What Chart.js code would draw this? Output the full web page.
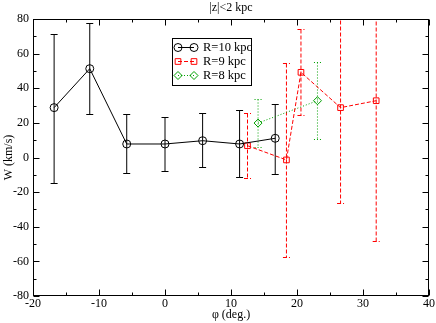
<!DOCTYPE html>
<html><head><meta charset="utf-8">
<script src="https://cdn.jsdelivr.net/npm/chart.js@4/dist/chart.umd.min.js"></script>
<style>html,body{margin:0;padding:0;background:#fff}</style>
</head><body><canvas id="c" width="436" height="323"></canvas>
<script>
const title = "|z|<2 kpc";
const xLabel = "\u03c6 (deg.)";
const yLabel = "W (km/s)";
const names = ["R=10 kpc","R=9 kpc","R=8 kpc"];
const phi10=[-16.8,-11.4,-5.8,0,5.7,11.3,16.7];
const w10=[28.8,51.3,7.8,7.8,9.7,7.8,11.1];
const hi10=[71.3,77.5,25,23.6,25.7,27.3,31.1];
const lo10=[-14.5,25,-9.1,-7.8,-5.7,-11.4,-9.4];
const phi9=[12.5,18.4,20.6,26.6,32.0];
const w9=[6.8,-1.4,49.2,28.8,32.8];
const hi9=[25.9,54.4,74.0,100,110];
const lo9=[-11.8,-57.5,24.4,-26.3,-48.1];
const phi8=[14.1,23.1];
const w8=[19.9,32.8];
const hi8=[33.6,55.0];
const lo8=[6.2,10.9];

const FONT = "'Liberation Serif', 'DejaVu Serif', serif";
function pts(x,y,hi,lo){return x.map((v,i)=>({x:v,y:y[i],hi:hi[i],lo:lo[i]}));}
const styles = [
  {color:'#000000', dash:[], style:'circle', r:4},
  {color:'#ff0000', dash:[4,2], style:'rect', r:4},
  {color:'#00a000', dash:[1,2], style:'rectRot', r:4}
];
const dataSets = [pts(phi10,w10,hi10,lo10), pts(phi9,w9,hi9,lo9), pts(phi8,w8,hi8,lo8)];

const frame = {
  id:'frame',
  beforeDatasetsDraw(chart){
    const {ctx, chartArea:a, scales:{x,y}} = chart;
    ctx.save();
    ctx.beginPath(); ctx.rect(a.left,a.top,a.right-a.left,a.bottom-a.top); ctx.clip();
    chart.data.datasets.forEach((ds,k)=>{
      const st = styles[k];
      ctx.strokeStyle = st.color; ctx.lineWidth = 1; ctx.setLineDash(st.dash);
      ds.data.forEach(p=>{
        const px = x.getPixelForValue(p.x);
        const ph = Math.round(y.getPixelForValue(p.hi))+0.5, pl = Math.round(y.getPixelForValue(p.lo))+0.5;
        ctx.beginPath();
        ctx.moveTo(px,ph); ctx.lineTo(px,pl);
        ctx.moveTo(px-3.5,ph); ctx.lineTo(px+3.5,ph);
        ctx.moveTo(px-3.5,pl); ctx.lineTo(px+3.5,pl);
        ctx.stroke();
      });
    });
    ctx.restore();
  },
  afterDraw(chart){
    const {ctx, chartArea:a, scales:{x,y}} = chart;
    ctx.save();
    ctx.strokeStyle='#000'; ctx.lineWidth=1; ctx.setLineDash([]);
    const L=Math.round(a.left)+0.5, R=Math.round(a.right)-0.5, T=Math.round(a.top)+0.5, B=Math.round(a.bottom)-0.5;
    ctx.strokeRect(L,T,R-L,B-T);
    ctx.beginPath();
    for(let v=-20; v<=40; v+=5){
      const px=Math.round(x.getPixelForValue(v))+0.5;
      const len = (v%10===0)?6:3;
      ctx.moveTo(px,B); ctx.lineTo(px,B-len);
      ctx.moveTo(px,T); ctx.lineTo(px,T+len);
    }
    for(let v=-80; v<=80; v+=10){
      const py=Math.round(y.getPixelForValue(v))+0.5;
      const len = (v%20===0)?6:3;
      ctx.moveTo(L,py); ctx.lineTo(L+len,py);
      ctx.moveTo(R,py); ctx.lineTo(R-len,py);
    }
    ctx.stroke();
    // title
    ctx.fillStyle='#000'; ctx.font='12px '+FONT; ctx.textAlign='center'; ctx.textBaseline='middle';
    ctx.fillText(title,(a.left+a.right)/2,8);
    // legend
    const bx=172.5, by=38.5, bw=79, bh=47;
    ctx.fillStyle='#fff'; ctx.fillRect(bx,by,bw,bh);
    ctx.strokeStyle='#000'; ctx.strokeRect(bx,by,bw,bh);
    const rows=[47.5,61.5,75.5];
    rows.forEach((ry,k)=>{
      const st=styles[k];
      ctx.strokeStyle=st.color; ctx.setLineDash(st.dash); ctx.lineWidth=1;
      ctx.beginPath(); ctx.moveTo(178,ry); ctx.lineTo(194,ry); ctx.stroke();
      ctx.setLineDash([]);
      ctx.fillStyle='rgba(0,0,0,0)';
      [178,194].forEach(mx=>{
        Chart.helpers.drawPoint(ctx,{pointStyle:st.style,radius:st.r,borderWidth:1},mx,ry);
      });
      ctx.fillStyle='#000'; ctx.textAlign='left'; ctx.font='12.5px '+FONT;
      ctx.fillText(names[k],203,ry+0.5);
    });
    ctx.restore();
  }
};

new Chart(document.getElementById('c'),{
  type:'scatter',
  data:{datasets: dataSets.map((d,k)=>({
    label:names[k], data:d, showLine:true,
    borderColor:styles[k].color, borderWidth:1, borderDash:styles[k].dash,
    pointStyle:styles[k].style, pointRadius:styles[k].r, pointBorderColor:styles[k].color,
    pointBackgroundColor:'rgba(0,0,0,0)', pointBorderWidth:1
  }))},
  options:{
    responsive:false, animation:false, devicePixelRatio:1,
    layout:{padding:{left:0,right:7,top:19,bottom:0}},
    plugins:{legend:{display:false}, tooltip:{enabled:false}},
    scales:{
      x:{type:'linear', min:-20, max:40,
        ticks:{stepSize:10, color:'#000', font:{family:FONT,size:12}, padding:1, maxRotation:0},
        grid:{display:false, drawTicks:false}, border:{display:false},
        title:{display:true, text:xLabel, color:'#000', font:{family:FONT,size:12}, padding:{top:0,bottom:1}},
        afterFit(s){s.height=27;}
      },
      y:{type:'linear', min:-80, max:80,
        ticks:{stepSize:20, color:'#000', font:{family:FONT,size:12}, padding:4},
        grid:{display:false, drawTicks:false}, border:{display:false},
        title:{display:true, text:yLabel, color:'#000', font:{family:FONT,size:12}, padding:{top:2,bottom:0}},
        afterFit(s){s.width=33;}
      }
    }
  },
  plugins:[frame]
});
</script>
</body></html>
